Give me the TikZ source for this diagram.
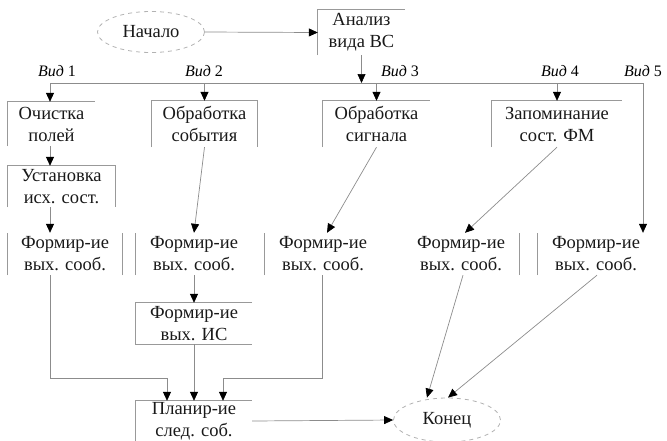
\documentclass[tikz,border=0pt]{standalone}
\usepackage{fontspec}
\setmainfont{Liberation Serif}
\usetikzlibrary{arrows.meta,shapes.geometric}
\begin{document}
\begin{tikzpicture}[x=1pt,y=-1pt,
  txt/.style={font=\fontsize{18.5}{22}\selectfont, text=black!90, align=center, inner sep=0pt, rectangle},
  vid/.style={font=\fontsize{16}{18}\selectfont, text=black, inner sep=0pt},
  oval/.style={txt, ellipse, draw=black!30, dashed, dash pattern=on 4pt off 4pt, line width=0.8pt},
  edge/.style={draw=black!40, line width=0.8pt},
  conn/.style={draw=black!45, line width=0.7pt, -{Triangle[length=9pt,width=8pt,color=black]}},
  plain/.style={draw=black!45, line width=0.7pt}
]
\useasboundingbox (0,0) rectangle (667,440);

% nodes
\node[oval, minimum width=107pt, minimum height=41pt] (start) at (151,32) {Начало};
\node[txt, minimum width=87pt, minimum height=45pt] (anal) at (361.5,32.5) {Анализ\\вида ВС};

\node[txt, minimum width=87pt, minimum height=44pt] (b1) at (51.5,124) {Очистка\\полей};
\node[txt, minimum width=105pt, minimum height=46pt] (b2) at (204.5,124) {Обработка\\события};
\node[txt, minimum width=107pt, minimum height=46pt] (b3) at (376.5,124) {Обработка\\сигнала};
\node[txt, minimum width=130pt, minimum height=46pt] (b4) at (557,124) {Запоминание\\сост. ФМ};

\node[txt, minimum width=107pt, minimum height=41pt] (b5) at (61.5,186.5) {Установка\\исх. сост.};

\node[txt, minimum width=114pt, minimum height=42pt] (f1) at (65,254) {Формир-ие\\вых. сооб.};
\node[txt, minimum width=116pt, minimum height=42pt] (f2) at (194,254) {Формир-ие\\вых. сооб.};
\node[txt, minimum width=116pt, minimum height=42pt] (f3) at (323,254) {Формир-ие\\вых. сооб.};
\node[txt, minimum width=116pt, minimum height=42pt] (f4) at (461,254) {Формир-ие\\вых. сооб.};
\node[txt, minimum width=116pt, minimum height=42pt] (f5) at (596,254) {Формир-ие\\вых. сооб.};

\node[txt, minimum width=116pt, minimum height=41pt] (is) at (194,323.5) {Формир-ие\\вых. ИС};
\node[txt, minimum width=116pt, minimum height=40pt] (pl) at (194,421) {Планир-ие\\след. соб.};
\node[oval, minimum width=107pt, minimum height=44pt] (end) at (447,420) {Конец};

% labels
\node[vid] (v1) at (57,71) {\textit{Вид} 1};
\node[vid] (v2) at (204,71) {\textit{Вид} 2};
\node[vid] (v3) at (400,71) {\textit{Вид} 3};
\node[vid] (v4) at (560,71) {\textit{Вид} 4};
\node[vid] (v5) at (643,71) {\textit{Вид} 5};

% visible box edges
\draw[edge] (anal.south west) -- (anal.north west) -- (anal.north east);
\draw[edge] (b1.south west) -- (b1.north west) -- (b1.north east);
\draw[edge] (b2.south west) -- (b2.north west) -- (b2.north east) -- (b2.south east);
\draw[edge] (b3.south west) -- (b3.north west) -- (b3.north east);
\draw[edge] (b4.south west) -- (b4.north west) -- (b4.north east);
\draw[edge] (b5.south west) -- (b5.north west) -- (b5.north east) -- (b5.south east);
\draw[edge] (f1.south west) -- (f1.north west);
\draw[edge] (f1.south east) -- (f1.north east);
\draw[edge] (f2.south west) -- (f2.north west);
\draw[edge] (f3.south west) -- (f3.north west);
\draw[edge] (f4.south east) -- (f4.north east);
\draw[edge] (f5.south west) -- (f5.north west);
\draw[edge] (is.north east) -- (is.north west) -- (is.south west) -- (is.south east);
\draw[edge] (pl.south west) -- (pl.north west) -- (pl.north east);

% bus
\coordinate (busL) at (50,83);
\coordinate (busR) at (643,83);
\coordinate (c1) at (50,83);
\draw[plain] (busL) -- (busR);

% connectors
\draw[conn] (start.east) -- (anal.west);
\draw[conn] (anal.south) -- (anal.south |- busL);
\draw[conn] (busL) -- (busL |- b1.north);
\draw[conn] (b2.north |- busL) -- (b2.north);
\draw[conn] (b3.north |- busL) -- (b3.north);
\draw[conn] (b4.north |- busL) -- (b4.north);
\draw[conn] (busR) -- (busR |- f5.north);

\draw[conn] (c1 |- b1.south) -- (c1 |- b5.north);
\draw[conn] (c1 |- b5.south) -- (c1 |- f1.north);
\draw[conn] (b2.south) -- (f2.north);
\draw[conn] (b3.south) -- ([xshift=4pt]f3.north);
\draw[conn] (b4.south) -- ([xshift=4pt]f4.north);
\draw[conn] (f2.south) -- (is.north);

\coordinate (j) at (0,378);
\draw[conn] (c1 |- f1.south) -- (c1 |- j) -| ([xshift=-27pt]pl.north);
\draw[conn] (is.south) -- (pl.north);
\draw[conn] ([xshift=-1pt]f3.south) -- ([xshift=-1pt]f3.south |- j) -| ([xshift=29pt]pl.north);

\draw[conn] (pl.east) -- (end.west);
\draw[conn] ([xshift=2pt]f4.south) -- ([xshift=-20pt]end.north);
\draw[conn] ([xshift=1pt]f5.south) -- ([xshift=1pt]end.north);
\end{tikzpicture}
\end{document}
